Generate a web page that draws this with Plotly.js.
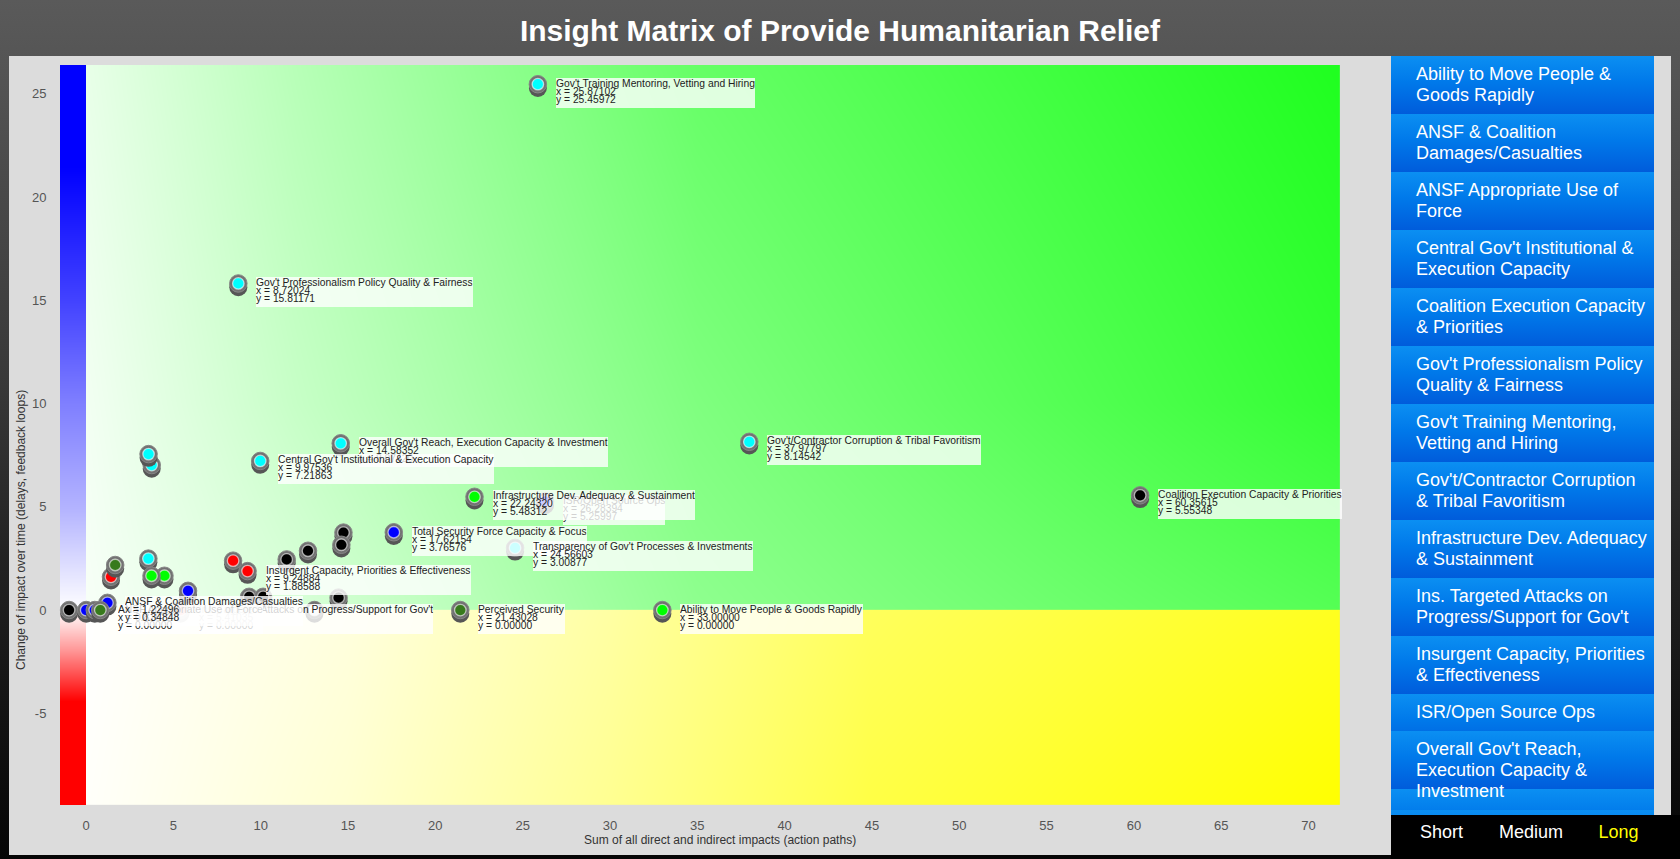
<!DOCTYPE html>
<html>
<head>
<meta charset="utf-8">
<script src="https://cdn.plot.ly/plotly-3.0.1.min.js"></script>
<style>
html,body{margin:0;padding:0;width:1680px;height:859px;overflow:hidden;
  background:linear-gradient(to bottom,#5a5a5a 0%,#555555 7%,#383838 45%,#222222 65%,#050505 100%);
  font-family:"Liberation Sans",Arial,sans-serif;}
#panel{position:absolute;left:9px;top:56px;width:1382px;height:799px;background:#dcdcdc;}
#chart{position:absolute;left:0;top:0;width:1680px;height:859px;}
#list{position:absolute;left:1391px;top:56px;width:263px;height:759px;overflow:hidden;z-index:5;}
#track{position:absolute;left:1654px;top:56px;width:17px;height:759px;background:#dcdcdc;z-index:5;}
.item{box-sizing:border-box;padding:8px 3px 8px 25px;color:#fff;font-size:18px;line-height:21px;
  white-space:pre;background:linear-gradient(to bottom,#0b8ff2 0%,#0079ea 45%,#005cdb 100%);
  background-size:100% 58px;background-repeat:repeat-y;}
#footer{position:absolute;left:1391px;top:815px;width:289px;height:44px;background:#000;z-index:5;}
.ft{position:absolute;top:7px;font-size:18px;line-height:21px;color:#fff;transform:translateX(-50%);white-space:nowrap;}
</style>
</head>
<body>
<div id="panel"></div>
<div id="chart"></div>
<div id="list"></div>
<div id="track"></div>
<div id="footer"></div>
<script>
const FONT = '"Liberation Sans", Arial, sans-serif';

// ---------- chart data ----------
const chartTitle = 'Insight Matrix of Provide Humanitarian Relief';
const xTitle = 'Sum of all direct and indirect impacts (action paths)';
const yTitle = 'Change of impact over time (delays, feedback loops)';
const xRange = [-1.49, 71.8];
const yRange = [-9.44, 26.39];
const xTicks = [0, 5, 10, 15, 20, 25, 30, 35, 40, 45, 50, 55, 60, 65, 70];
const yTicks = [-5, 0, 5, 10, 15, 20, 25];

// points in drawing order ("" = unlabeled node)
const ptNames = [
  "", "",
  "Gov't Professionalism Policy Quality & Fairness",
  "Gov't Training Mentoring, Vetting and Hiring",
  "Gov't/Contractor Corruption & Tribal Favoritism",
  "Coalition Execution Capacity & Priorities",
  "Overall Gov't Reach, Execution Capacity & Investment",
  "Central Gov't Institutional & Execution Capacity",
  "ISR/Open Source Ops",
  "Infrastructure Dev. Adequacy & Sustainment",
  "Total Security Force Capacity & Focus",
  "Transparency of Gov't Processes & Investments",
  "", "", "", "", "",
  "Insurgent Capacity, Priorities & Effectiveness",
  "", "", "", "", "", "", "", "", "", "",
  "Perceived Security",
  "Ability to Move People & Goods Rapidly",
  "Ins. Targeted Attacks on Progress/Support for Gov't",
  "ANSF & Coalition Damages/Casualties",
  "", "", "",
  "ANSF Appropriate Use of Force"
];
const ptX = [
  3.76, 3.58,
  8.72024, 25.87102, 37.97797, 60.35615, 14.58352, 9.97536, 26.28394, 22.24320, 17.62154, 24.56603,
  14.74, 14.62, 12.71, 11.49, 8.42,
  9.24884,
  3.57, 4.49, 3.75, 1.43, 1.67, 5.84, 9.34, 10.14, 14.46, 13.08,
  21.43028, 33.00000, 5.41035, 1.22496,
  -0.97, 0.01, 0.50,
  0.81672
];
const ptY = [
  7.02, 7.55,
  15.81171, 25.45972, 8.14542, 5.55348, 8.07420, 7.21863, 5.25997, 5.48312, 3.76576, 3.00877,
  3.75, 3.16, 2.87, 2.45, 2.39,
  1.88588,
  2.49, 1.66, 1.66, 1.61, 2.18, 0.93, 0.64, 0.64, 0.60, 0.00,
  0.00000, 0.00000, 0.00000, 0.34848,
  0.00, 0.00, 0.00,
  0.00000
];
const ptColors = [
  'cyan', 'cyan',
  'cyan', 'cyan', 'cyan', 'black', 'cyan', 'cyan', 'blue', 'green', 'blue', 'cyan',
  'black', 'black', 'black', 'black', 'red',
  'red',
  'cyan', 'green', 'green', 'red', 'darkgreen', 'blue', 'black', 'black', 'black', 'white',
  'darkgreen', 'green', 'red', 'blue',
  'black', 'blue', 'blue',
  'darkgreen'
];
const colorMap = {cyan:'#00ffff', black:'#000000', blue:'#0000ff', red:'#ff0000',
                  green:'#00ff00', darkgreen:'#377a1c', white:'#f4f4f4'};

// order in which the value labels are stacked (later ones on top)
const labelOrder = [
  "Gov't Training Mentoring, Vetting and Hiring",
  "Gov't Professionalism Policy Quality & Fairness",
  "Gov't/Contractor Corruption & Tribal Favoritism",
  "Coalition Execution Capacity & Priorities",
  "Overall Gov't Reach, Execution Capacity & Investment",
  "Central Gov't Institutional & Execution Capacity",
  "ISR/Open Source Ops",
  "Infrastructure Dev. Adequacy & Sustainment",
  "Total Security Force Capacity & Focus",
  "Transparency of Gov't Processes & Investments",
  "Insurgent Capacity, Priorities & Effectiveness",
  "Perceived Security",
  "Ability to Move People & Goods Rapidly",
  "Ins. Targeted Attacks on Progress/Support for Gov't",
  "ANSF Appropriate Use of Force",
  "ANSF & Coalition Damages/Casualties"
];

// side list (with its line wrapping) and horizon buttons
const legendLines = [
  "Ability to Move People &\nGoods Rapidly",
  "ANSF & Coalition\nDamages/Casualties",
  "ANSF Appropriate Use of\nForce",
  "Central Gov't Institutional &\nExecution Capacity",
  "Coalition Execution Capacity\n& Priorities",
  "Gov't Professionalism Policy\nQuality & Fairness",
  "Gov't Training Mentoring,\nVetting and Hiring",
  "Gov't/Contractor Corruption\n& Tribal Favoritism",
  "Infrastructure Dev. Adequacy\n& Sustainment",
  "Ins. Targeted Attacks on\nProgress/Support for Gov't",
  "Insurgent Capacity, Priorities\n& Effectiveness",
  "ISR/Open Source Ops",
  "Overall Gov't Reach,\nExecution Capacity &\nInvestment",
  "Perceived Security",
  "Total Security Force Capacity\n& Focus",
  "Transparency of Gov't\nProcesses & Investments"
];
const horizonLabels = ['Short', 'Medium', 'Long'];
const horizonActive = 'Long';

// background gradient control values (decoration)
const greenGX = [0, 0.02, 12, 35, 72];
const greenGY = [0, 0.02, 10, 26.4];
const greenGZ = [
  [0.03, 0.03, 0.15, 0.44, 0.67],
  [0.03, 0.03, 0.15, 0.44, 0.67],
  [0.05, 0.05, 0.22, 0.50, 0.80],
  [0.09, 0.09, 0.28, 0.60, 0.88]
];
const yellowGX = [0, 0.02, 15, 30, 45, 72];
const yellowGY = [-9.5, -0.02, 0];
const yellowGZ = [
  [0.02, 0.02, 0.18, 0.43, 0.73, 1.0],
  [0.00, 0.00, 0.13, 0.36, 0.64, 0.88],
  [0.00, 0.00, 0.13, 0.36, 0.64, 0.88]
];
const stripGX = [-3, -0.02, -0.01];
const stripGY = [-9.5, -4.4, -2, 0, 5, 10, 15, 21.5, 26.5];
const stripGV = [-1, -1, -0.42, 0, 0.3, 0.5, 0.74, 1, 1];

// ---------- layout geometry ----------
const W = 1680, H = 859;
const M = {l: 60, r: 340, t: 65, b: 54};
const plotW = W - M.l - M.r, plotH = H - M.t - M.b;

const traces = [];
traces.push({type:'heatmap', x: greenGX, y: greenGY, z: greenGZ, zmin:0, zmax:1, zsmooth:'best',
  colorscale:[[0,'#ffffff'],[1,'#00ff00']], showscale:false, hoverinfo:'skip'});
traces.push({type:'heatmap', x: yellowGX, y: yellowGY, z: yellowGZ, zmin:0, zmax:1, zsmooth:'best',
  colorscale:[[0,'#ffffff'],[1,'#ffff00']], showscale:false, hoverinfo:'skip'});
traces.push({type:'heatmap', x: stripGX, y: stripGY, z: stripGV.map(v => stripGX.map(() => v)),
  zmin:-1, zmax:1, zsmooth:'best',
  colorscale:[[0,'#ff0000'],[0.5,'#ffffff'],[1,'#0000ff']], showscale:false, hoverinfo:'skip'});

// LED-style markers: shadow, grey body, coloured core, per node in order
const shadowDy = 3.7 * (yRange[1] - yRange[0]) / plotH;
const mx = [], my = [], ms = [], mc = [], mlc = [], mlw = [];
ptX.forEach((x, i) => {
  const y = ptY[i];
  mx.push(x, x, x);
  my.push(y - shadowDy, y, y);
  ms.push(18, 17.5, 11.5);
  mc.push('#565656', '#727272', colorMap[ptColors[i]]);
  mlc.push('#565656', '#868686', 'rgba(255,255,255,0.6)');
  mlw.push(0, 1, 1.3);
});
traces.push({type:'scatter', mode:'markers', x: mx, y: my, hoverinfo:'skip', cliponaxis:false,
  marker:{symbol:'circle', size: ms, color: mc, opacity:1, line:{color: mlc, width: mlw}}});

const labelFont = {family: FONT, size: 10.3, color: '#222222'};
const annotations = [];
labelOrder.forEach(name => {
  const i = ptNames.indexOf(name);
  const base = {x: ptX[i], y: ptY[i], xref:'x', yref:'y', showarrow:false,
    xanchor:'left', yanchor:'top', xshift:18, align:'left', font: labelFont,
    borderpad:0, borderwidth:0};
  annotations.push(Object.assign({}, base, {text: name, yshift: 6.5,
    bgcolor:'rgba(255,255,255,0.8)', height:29.5, valign:'top'}));
  annotations.push(Object.assign({}, base, {text: 'x = ' + ptX[i].toFixed(5), yshift: -1.5}));
  annotations.push(Object.assign({}, base, {text: 'y = ' + ptY[i].toFixed(5), yshift: -9.5}));
});
annotations.push({xref:'paper', yref:'paper', x: (720 - M.l) / plotW, y: -(840 - (H - M.b)) / plotH,
  xanchor:'center', yanchor:'middle', showarrow:false, text: xTitle,
  font:{family: FONT, size: 12, color:'#333333'}});
annotations.push({xref:'paper', yref:'paper', x: (21 - M.l) / plotW, y: ((H - M.b) - 530) / plotH,
  xanchor:'center', yanchor:'middle', showarrow:false, text: yTitle, textangle:-90,
  font:{family: FONT, size: 12, color:'#333333'}});

const layout = {
  width: W, height: H, margin: M,
  paper_bgcolor:'rgba(0,0,0,0)', plot_bgcolor:'rgba(0,0,0,0)',
  showlegend:false,
  title:{text: chartTitle, x:0.5, xref:'container', y: 1 - 30 / H, yref:'container',
    xanchor:'center', yanchor:'middle',
    font:{family: FONT, size: 30, color:'#ffffff', weight:'bold'}},
  xaxis:{range: xRange, tickvals: xTicks, ticktext: xTicks.map(String), showgrid:false, zeroline:false,
    showline:false, ticks:'outside', ticklen:8, tickcolor:'rgba(0,0,0,0)',
    tickfont:{family: FONT, size: 13, color:'#555555'}, fixedrange:true},
  yaxis:{range: yRange, tickvals: yTicks, ticktext: yTicks.map(String), showgrid:false, zeroline:false,
    showline:false, ticks:'outside', ticklen:10, tickcolor:'rgba(0,0,0,0)',
    tickfont:{family: FONT, size: 13, color:'#555555'}, fixedrange:true},
  annotations: annotations
};

Plotly.newPlot('chart', traces, layout, {displayModeBar:false, staticPlot:true});

// side list
const list = document.getElementById('list');
legendLines.forEach(t => {
  const d = document.createElement('div');
  d.className = 'item';
  d.textContent = t;
  list.appendChild(d);
});
const footer = document.getElementById('footer');
const ftX = [50.5, 140, 227.5];
horizonLabels.forEach((t, i) => {
  const s = document.createElement('div');
  s.className = 'ft';
  s.style.left = ftX[i] + 'px';
  s.style.color = (t === horizonActive) ? '#ffff00' : '#ffffff';
  s.textContent = t;
  footer.appendChild(s);
});
</script>
</body>
</html>
